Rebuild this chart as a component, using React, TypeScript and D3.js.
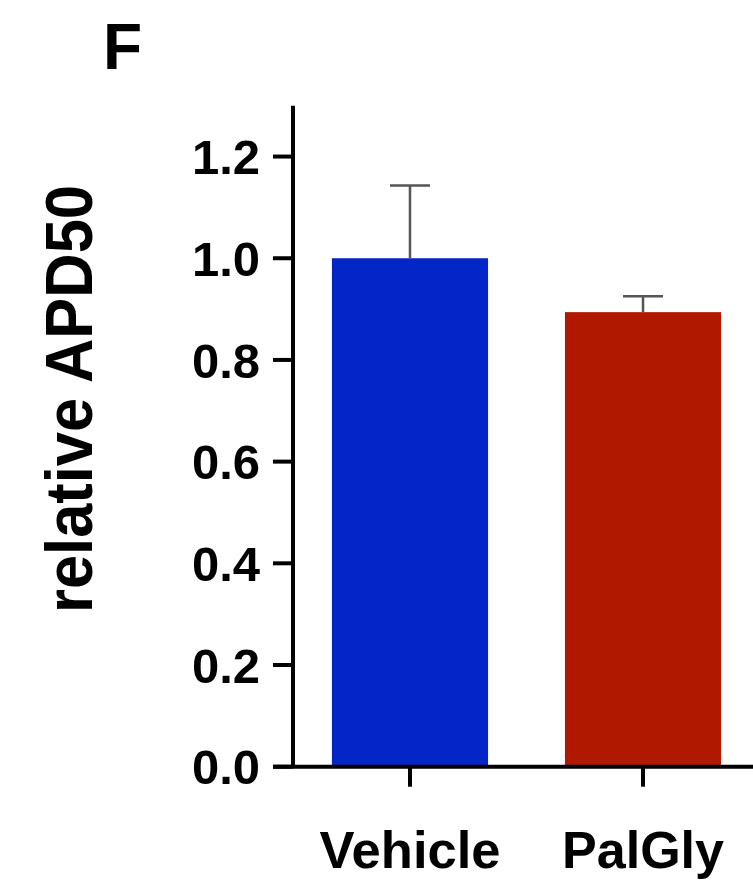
import React from "react";
import * as d3 from "d3";

const categories = ["Vehicle", "PalGly"];
const means = [1.0, 0.894];
const errors = [0.143, 0.031];
const colors = ["#0426c8", "#b01900"];
const yTicks = [0, 0.2, 0.4, 0.6, 0.8, 1.0, 1.2];
const yLabel = "relative APD50";
const panelLetter = "F";

export default function App() {
  const W = 753, H = 891;
  const x0 = 293, x1 = 776;
  const y = d3.scaleLinear().domain([0, 1.3]).range([766.7, 105.7]);
  const x = d3.scaleBand().domain(categories).range([x0, 760]).paddingInner(0.33).paddingOuter(0.167);
  const font = "'Liberation Sans', Arial, Helvetica, sans-serif";
  const bw = x.bandwidth();
  return (
    <svg width={W} height={H} style={{ position: "absolute", left: 0, top: 0, background: "#fff" }} fontFamily={font}>
      <rect width={W} height={H} fill="#fff" />
      <text x={103} y={69} fontSize={64} fontWeight="bold">{panelLetter}</text>
      {categories.map((c, i) => {
        const bx = x(c)!;
        const cx = bx + bw / 2;
        return (
          <g key={c}>
            <rect x={bx} y={y(means[i])} width={bw} height={y(0) - y(means[i])} fill={colors[i]} />
            <line x1={cx} x2={cx} y1={y(means[i])} y2={y(means[i] + errors[i])} stroke="#555" strokeWidth={2.5} />
            <line x1={cx - 20} x2={cx + 20} y1={y(means[i] + errors[i])} y2={y(means[i] + errors[i])} stroke="#555" strokeWidth={2.5} />
            <line x1={cx} x2={cx} y1={y(0)} y2={y(0) + 20} stroke="#000" strokeWidth={4} />
            <text x={cx} y={868} fontSize={52} fontWeight="bold" textAnchor="middle" textLength={c === "Vehicle" ? 181 : 162} lengthAdjust="spacingAndGlyphs">{c}</text>
          </g>
        );
      })}
      <line x1={x0} x2={x0} y1={y(1.3)} y2={y(0)} stroke="#000" strokeWidth={4} />
      <line x1={x0 - 20} x2={x1} y1={y(0)} y2={y(0)} stroke="#000" strokeWidth={4} />
      {yTicks.map((t) => (
        <g key={t}>
          <line x1={x0 - 20} x2={x0} y1={y(t)} y2={y(t)} stroke="#000" strokeWidth={4} />
          <text x={260} y={y(t)} dy="0.36em" fontSize={49} fontWeight="bold" textAnchor="end">{d3.format(".1f")(t)}</text>
        </g>
      ))}
      <text transform={`translate(92,399) rotate(-90)`} fontSize={66} fontWeight="bold" textAnchor="middle" textLength={428} lengthAdjust="spacingAndGlyphs">{yLabel}</text>
    </svg>
  );
}
